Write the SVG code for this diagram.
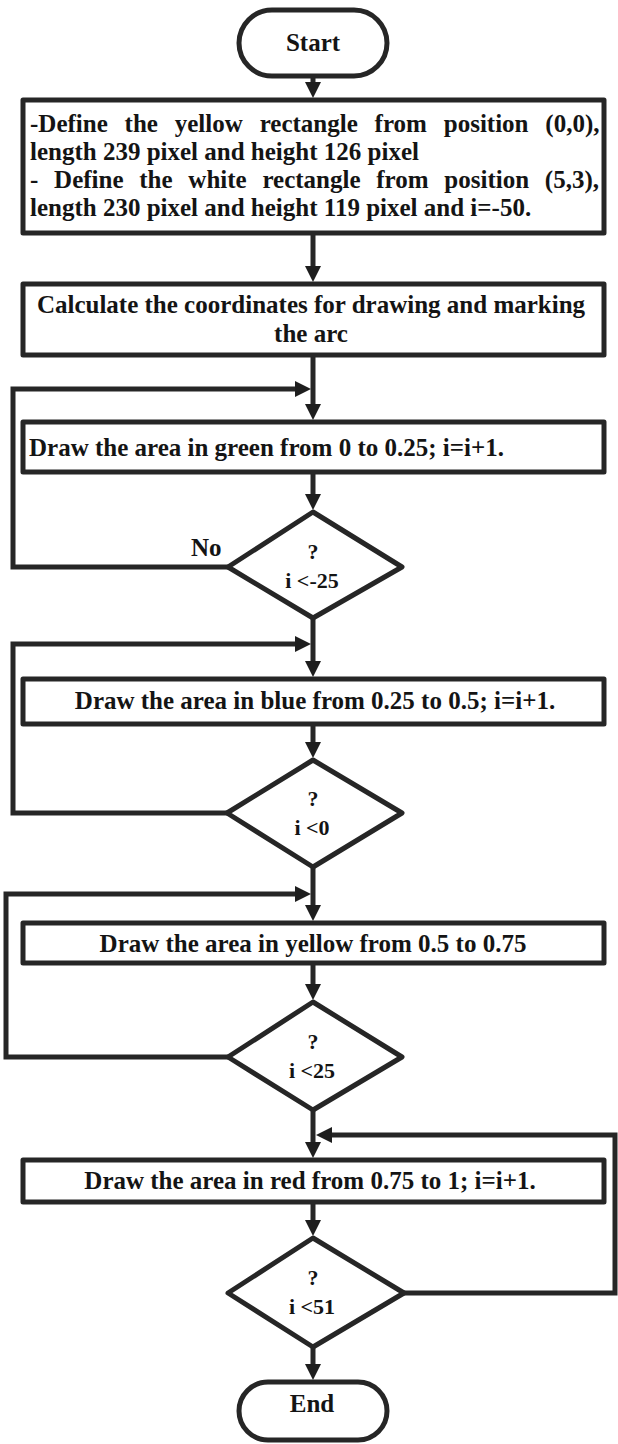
<svg xmlns="http://www.w3.org/2000/svg" width="618" height="1444" viewBox="0 0 618 1444">
  <style>
    .box { fill: #ffffff; stroke: #262626; stroke-width: 5; stroke-linejoin: round; }
    .edge { fill: none; stroke: #262626; stroke-width: 5; stroke-linejoin: miter; }
    .t { font-family: "Liberation Serif", "Times New Roman", serif; font-weight: bold; font-size: 25px; fill: #141414; }
    .c { text-anchor: middle; }
    .d { font-family: "Liberation Serif", "Times New Roman", serif; font-weight: bold; font-size: 22px; fill: #141414; text-anchor: middle; }
  </style>
  <defs>
    <marker id="arrow" markerUnits="userSpaceOnUse" markerWidth="16" markerHeight="16" refX="10" refY="8" orient="auto">
      <path d="M0,0 L16,8 L0,16 Z" fill="#1e1e1e"/>
    </marker>
  </defs>

  <rect width="618" height="1444" fill="#ffffff"/>

  <!-- connectors -->
  <g id="connectors">
    <path class="edge" d="M313,76 V92" marker-end="url(#arrow)"/>
    <path class="edge" d="M313,233 V276" marker-end="url(#arrow)"/>
    <path class="edge" d="M313,355 V414" marker-end="url(#arrow)"/>
    <path class="edge" d="M228,567 H13 V389 H305" marker-end="url(#arrow)"/>
    <path class="edge" d="M313,472 V504" marker-end="url(#arrow)"/>
    <path class="edge" d="M313,618 V671" marker-end="url(#arrow)"/>
    <path class="edge" d="M227,813 H13 V644 H305" marker-end="url(#arrow)"/>
    <path class="edge" d="M313,724 V752" marker-end="url(#arrow)"/>
    <path class="edge" d="M313,867 V915" marker-end="url(#arrow)"/>
    <path class="edge" d="M228,1057 H6 V894 H305" marker-end="url(#arrow)"/>
    <path class="edge" d="M313,963 V994" marker-end="url(#arrow)"/>
    <path class="edge" d="M313,1110 V1152" marker-end="url(#arrow)"/>
    <path class="edge" d="M402,1293 H615 V1135 H322" marker-end="url(#arrow)"/>
    <path class="edge" d="M313,1202 V1230" marker-end="url(#arrow)"/>
    <path class="edge" d="M313,1347 V1374" marker-end="url(#arrow)"/>
  </g>

  <!-- terminal: start -->
  <g id="start">
    <rect class="box" x="239" y="10" width="148" height="66" rx="33" ry="33"/>
    <text class="t c" x="313" y="51">Start</text>
  </g>

  <!-- initialisation block -->
  <g id="define">
    <rect class="box" x="23" y="100" width="581" height="133"/>
    <text class="t" x="30" y="132" word-spacing="10.6">-Define the yellow rectangle from position (0,0),</text>
    <text class="t" x="30" y="160">length 239 pixel and height 126 pixel</text>
    <text class="t" x="30" y="188" word-spacing="9.5">- Define the white rectangle from position (5,3),</text>
    <text class="t" x="30" y="216">length 230 pixel and height 119 pixel and i=-50.</text>
  </g>

  <g id="calc">
    <rect class="box" x="23" y="284" width="581" height="71"/>
    <text class="t c" x="311" y="313">Calculate the coordinates for drawing and marking</text>
    <text class="t c" x="311" y="342">the arc</text>
  </g>

  <g id="green">
    <rect class="box" x="23" y="422" width="581" height="50"/>
    <text class="t" x="29" y="456">Draw the area in green from 0 to 0.25; i=i+1.</text>
  </g>

  <g id="check1">
    <polygon class="box" points="313,512 402,567 313,618 228,567"/>
    <text class="d" x="313" y="559">?</text>
    <text class="d" x="312" y="588">i &lt;-25</text>
    <text class="t" x="191" y="556">No</text>
  </g>

  <g id="blue">
    <rect class="box" x="23" y="679" width="581" height="45"/>
    <text class="t c" x="315" y="709">Draw the area in blue from 0.25 to 0.5; i=i+1.</text>
  </g>

  <g id="check2">
    <polygon class="box" points="313,760 402,813 313,867 227,813"/>
    <text class="d" x="313" y="806">?</text>
    <text class="d" x="312" y="835">i &lt;0</text>
  </g>

  <g id="yellow">
    <rect class="box" x="23" y="923" width="581" height="40"/>
    <text class="t c" x="313" y="952">Draw the area in yellow from 0.5 to 0.75</text>
  </g>

  <g id="check3">
    <polygon class="box" points="313,1002 402,1057 313,1110 228,1057"/>
    <text class="d" x="313" y="1049">?</text>
    <text class="d" x="312" y="1078">i &lt;25</text>
  </g>

  <g id="red">
    <rect class="box" x="23" y="1160" width="581" height="42"/>
    <text class="t c" x="310" y="1189">Draw the area in red from 0.75 to 1; i=i+1.</text>
  </g>

  <g id="check4">
    <polygon class="box" points="313,1238 404,1293 313,1347 228,1293"/>
    <text class="d" x="313" y="1285">?</text>
    <text class="d" x="312" y="1314">i &lt;51</text>
  </g>

  <!-- terminal: end -->
  <g id="end">
    <rect class="box" x="239" y="1382" width="148" height="58" rx="29" ry="29"/>
    <text class="t c" x="312" y="1412">End</text>
  </g>
</svg>
